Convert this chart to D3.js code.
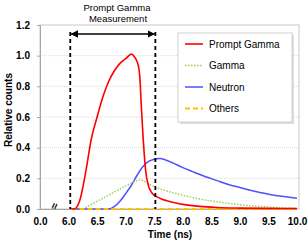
<!DOCTYPE html>
<html>
<head>
<meta charset="utf-8">
<script src="https://cdn.jsdelivr.net/npm/d3@7"></script>
<style>
  body { margin: 0; background: #fff; }
  text { font-family: "Liberation Sans", Arial, sans-serif; }
</style>
</head>
<body>
<svg id="chart"></svg>
<script>
// data (time in ns, relative counts)
var promptT = [6.05, 6.1, 6.2, 6.3, 6.4, 6.5, 6.6, 6.7, 6.8, 6.9, 7.0, 7.1, 7.15, 7.2, 7.23, 7.25, 7.27, 7.3, 7.35, 7.4, 7.45, 7.5, 7.6, 7.8, 8.0, 8.3, 8.6, 9.0, 9.5, 10.0];
var promptV = [0, 0, 0.06, 0.24, 0.46, 0.60, 0.73, 0.83, 0.90, 0.95, 0.98, 1.01, 0.995, 0.96, 0.92, 0.85, 0.70, 0.50, 0.25, 0.15, 0.11, 0.09, 0.07, 0.045, 0.03, 0.017, 0.01, 0.006, 0.004, 0.003];

var gammaT = [6.25, 6.4, 6.6, 6.8, 7.0, 7.1, 7.2, 7.25, 7.3, 7.4, 7.5, 7.7, 8.0, 8.3, 8.6, 9.0, 9.5, 10.0];
var gammaV = [0, 0.03, 0.07, 0.11, 0.15, 0.17, 0.185, 0.19, 0.185, 0.165, 0.145, 0.12, 0.09, 0.065, 0.047, 0.028, 0.013, 0.005];

var neutronT = [6.05, 6.7, 6.8, 6.9, 7.0, 7.1, 7.2, 7.3, 7.4, 7.5, 7.6, 7.7, 7.8, 8.0, 8.2, 8.4, 8.6, 8.8, 9.0, 9.2, 9.4, 9.6, 9.8, 10.0];
var neutronV = [0, 0, 0.015, 0.05, 0.10, 0.155, 0.22, 0.275, 0.31, 0.325, 0.33, 0.32, 0.305, 0.27, 0.24, 0.21, 0.185, 0.16, 0.14, 0.12, 0.105, 0.09, 0.08, 0.07];

var othersT = [6.05, 7.0, 8.0, 9.0, 10.0];
var othersV = [0, 0, 0, 0, 0];

var xTicks = [5.5, 6.0, 6.5, 7.0, 7.5, 8.0, 8.5, 9.0, 9.5, 10.0];
var xTickLabels = ["0.0", "6.0", "6.5", "7.0", "7.5", "8.0", "8.5", "9.0", "9.5", "10.0"];
var yTicks = [0, 0.2, 0.4, 0.6, 0.8, 1.0, 1.2];
var yTickLabels = ["0.0", "0.2", "0.4", "0.6", "0.8", "1.0", "1.2"];
var windowT = [6.03, 7.52];

var seriesNames = ["Prompt Gamma", "Gamma", "Neutron", "Others"];
var seriesColors = ["#ff0000", "#92d050", "#4f4fff", "#ffc000"];
var seriesDash = [null, "1.5,1.5", null, "5,3"];
var seriesWidth = [1.6, 1.4, 1.5, 2];

var W = 308, H = 241;
var plot = {left: 40, right: 299, top: 25, bottom: 209};

var svg = d3.select("#chart").attr("width", W).attr("height", H);

var x = d3.scaleLinear().domain([5.5, 10]).range([plot.left, 297]);
var y = d3.scaleLinear().domain([0, 1.2]).range([plot.bottom, plot.top]);

// gridlines
svg.append("g")
  .selectAll("line")
  .data(yTicks.slice(1, -1))
  .enter().append("line")
    .attr("x1", plot.left).attr("x2", plot.right)
    .attr("y1", function(d){ return y(d); }).attr("y2", function(d){ return y(d); })
    .attr("stroke", "#d9d9d9").attr("stroke-dasharray", "1,1");

// frame
svg.append("rect")
  .attr("x", plot.left).attr("y", plot.top)
  .attr("width", plot.right - plot.left).attr("height", plot.bottom - plot.top)
  .attr("fill", "none").attr("stroke", "#c8c8c8");

// y axis
var yAxis = d3.axisLeft(y).tickValues(yTicks).tickSize(3).tickPadding(7)
  .tickFormat(function(d, i){ return yTickLabels[i]; });
var gy = svg.append("g").attr("transform", "translate(" + plot.left + ",0)").call(yAxis);
gy.select(".domain").attr("stroke", "#a6a6a6");
gy.selectAll(".tick line").attr("stroke", "#a6a6a6");
gy.selectAll("text").attr("font-size", 10).attr("font-weight", "bold").attr("fill", "#000")
  .style("font-family", "Liberation Sans, Arial, sans-serif");

// x axis
var xAxis = d3.axisBottom(x).tickValues(xTicks).tickSize(0).tickPadding(9)
  .tickFormat(function(d, i){ return xTickLabels[i]; });
var gx = svg.append("g").attr("transform", "translate(0," + plot.bottom + ")").call(xAxis);
gx.select(".domain").attr("stroke", "#a6a6a6");
gx.selectAll("text").attr("font-size", 10).attr("font-weight", "bold").attr("fill", "#000")
  .style("font-family", "Liberation Sans, Arial, sans-serif");

// axis break mark
svg.append("text")
  .attr("transform", "translate(" + x(5.75) + "," + (plot.bottom - 3) + ") rotate(-75)")
  .attr("text-anchor", "middle").attr("dy", "0.35em")
  .attr("font-size", 11).attr("font-weight", "bold")
  .text("\u2248");

// axis titles
svg.append("text")
  .attr("x", 170).attr("y", 238)
  .attr("text-anchor", "middle").attr("font-size", 10).attr("font-weight", "bold")
  .text("Time (ns)");
svg.append("text")
  .attr("transform", "translate(12,110) rotate(-90)")
  .attr("text-anchor", "middle").attr("font-size", 10).attr("font-weight", "bold")
  .text("Relative counts");

// series
var line = d3.line()
  .x(function(d){ return x(d[0]); })
  .y(function(d){ return y(d[1]); })
  .curve(d3.curveMonotoneX);

function pairs(t, v){ return t.map(function(d, i){ return [d, v[i]]; }); }

var seriesData = [pairs(promptT, promptV), pairs(gammaT, gammaV), pairs(neutronT, neutronV), pairs(othersT, othersV)];
var drawOrder = [2, 1, 3, 0];

drawOrder.forEach(function(i){
  svg.append("path")
    .datum(seriesData[i])
    .attr("d", line)
    .attr("fill", "none")
    .attr("stroke", seriesColors[i])
    .attr("stroke-width", seriesWidth[i])
    .attr("stroke-dasharray", seriesDash[i]);
});

// measurement window
svg.append("g")
  .selectAll("line")
  .data(windowT)
  .enter().append("line")
    .attr("x1", function(d){ return x(d); }).attr("x2", function(d){ return x(d); })
    .attr("y1", 32).attr("y2", plot.bottom)
    .attr("stroke", "#000").attr("stroke-width", 1.8).attr("stroke-dasharray", "4,3");

var defs = svg.append("defs");
["start", "end"].forEach(function(k){
  defs.append("marker")
    .attr("id", "arr-" + k)
    .attr("viewBox", "0 0 10 10").attr("refX", 9).attr("refY", 5)
    .attr("markerWidth", 5).attr("markerHeight", 5)
    .attr("orient", "auto-start-reverse")
    .append("path").attr("d", "M0,0L10,5L0,10z").attr("fill", "#000");
});
svg.append("line")
  .attr("x1", x(windowT[0]) + 1).attr("x2", x(windowT[1]) - 1)
  .attr("y1", 34).attr("y2", 34)
  .attr("stroke", "#000").attr("stroke-width", 1.5)
  .attr("marker-start", "url(#arr-start)").attr("marker-end", "url(#arr-end)");

svg.append("text")
  .attr("x", 117).attr("y", 11)
  .attr("text-anchor", "middle").attr("font-size", 9.5)
  .text("Prompt Gamma");
svg.append("text")
  .attr("x", 118).attr("y", 21.5)
  .attr("text-anchor", "middle").attr("font-size", 9.5)
  .text("Measurement");

// legend
var lg = svg.append("g").attr("transform", "translate(178,33)");
lg.append("rect").attr("x", 2).attr("y", 2).attr("width", 114).attr("height", 89)
  .attr("fill", "#c8c8c8").attr("opacity", 0.6);
lg.append("rect").attr("width", 114).attr("height", 89)
  .attr("fill", "#fff").attr("stroke", "#d0d0d0");

var items = lg.selectAll("g.item")
  .data(seriesNames)
  .enter().append("g")
    .attr("transform", function(d, i){ return "translate(0," + (11 + i * 21.5) + ")"; });
items.append("line")
  .attr("x1", 7).attr("x2", 25).attr("y1", 0).attr("y2", 0)
  .attr("stroke", function(d, i){ return seriesColors[i]; })
  .attr("stroke-width", function(d, i){ return seriesWidth[i]; })
  .attr("stroke-dasharray", function(d, i){ return seriesDash[i]; });
items.append("text")
  .attr("x", 31).attr("y", 0).attr("dy", "0.35em")
  .attr("font-size", 10)
  .text(function(d){ return d; });
</script>
</body>
</html>
